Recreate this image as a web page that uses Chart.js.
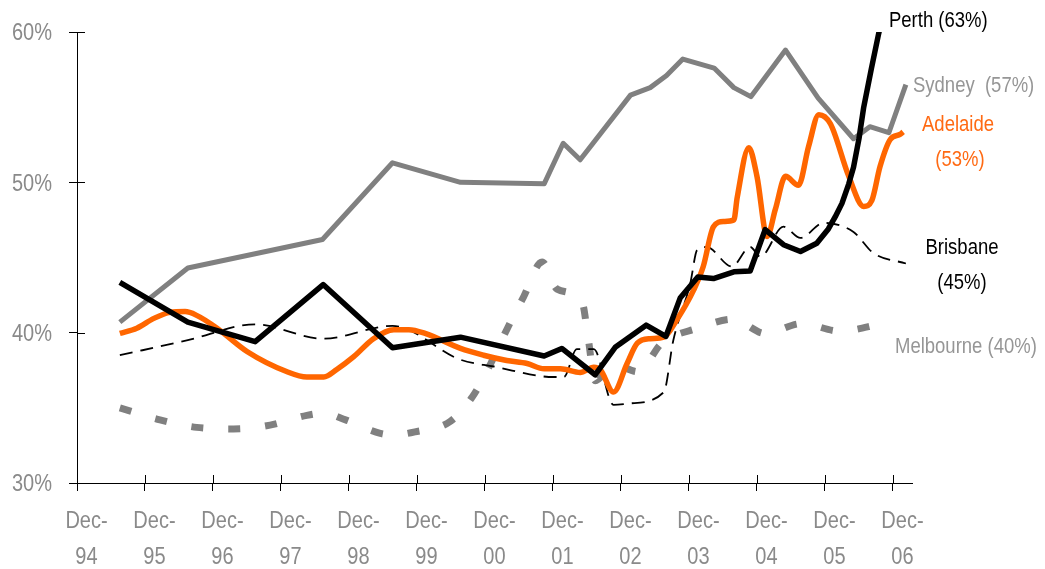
<!DOCTYPE html>
<html lang="en">
<head>
<meta charset="UTF-8" />
<title>Vacancy share by city</title>
<style>
  body {
    margin: 0;
    background: #ffffff;
  }
  .wrap {
    position: relative;
    width: 1045px;
    height: 569px;
  }
</style>
</head>
<body>

<div class="wrap">
  <canvas id="cityChart"></canvas>
</div>

<script src="https://cdn.jsdelivr.net/npm/chart.js"></script>
<script>
  // x = years after Dec-94, y = percent
  const tickYears = ['94', '95', '96', '97', '98', '99', '00', '01', '02', '03', '04', '05', '06'];
  const yTicks = [30, 40, 50, 60];

  const sydney = [
    [0.63, 40.7], [1.63, 44.3], [3.61, 46.2], [4.64, 51.3], [5.64, 50.0], [6.87, 49.9],
    [7.15, 52.6], [7.40, 51.5], [8.14, 55.8], [8.43, 56.3], [8.67, 57.1], [8.91, 58.2],
    [9.37, 57.6], [9.66, 56.3], [9.91, 55.7], [10.42, 58.8], [10.90, 55.6], [11.42, 52.9],
    [11.66, 53.7], [11.94, 53.3], [12.19, 56.5]
  ];

  const perth = [
    [0.63, 43.35], [1.63, 40.7], [2.62, 39.4], [3.62, 43.2], [4.64, 39.0], [5.64, 39.7],
    [6.87, 38.45], [7.13, 38.95], [7.62, 37.2], [7.92, 39.05], [8.37, 40.5], [8.66, 39.75],
    [8.87, 42.3], [9.13, 43.7], [9.36, 43.6], [9.66, 44.05], [9.90, 44.1], [10.12, 46.85],
    [10.39, 45.85], [10.64, 45.4], [10.88, 45.95], [11.05, 46.9], [11.15, 47.7], [11.25, 48.6],
    [11.35, 49.9], [11.42, 51.0], [11.50, 52.9], [11.57, 55.0], [11.68, 57.5], [11.79, 59.9],
    [11.95, 63.0]
  ];

  const adelaide = [
    [0.63, 39.95], [0.88, 40.3], [1.13, 40.95], [1.37, 41.35], [1.59, 41.4], [1.76, 41.15],
    [2.06, 40.3], [2.5, 38.75], [3.09, 37.4], [3.38, 37.05], [3.63, 37.05], [3.82, 37.55],
    [4.07, 38.4], [4.36, 39.6], [4.66, 40.2], [4.88, 40.2], [5.12, 39.95], [5.64, 38.95],
    [5.98, 38.5], [6.32, 38.15], [6.62, 37.95], [6.87, 37.6], [7.11, 37.6], [7.40, 37.35],
    [7.60, 37.7], [7.70, 37.5], [7.89, 36.05], [8.09, 37.95], [8.24, 39.3], [8.43, 39.6],
    [8.63, 39.7], [8.82, 40.85], [9.07, 42.85], [9.21, 44.4], [9.36, 47.05], [9.51, 47.4],
    [9.66, 47.5], [9.71, 49.0], [9.88, 52.3], [10.0, 50.4], [10.15, 46.4], [10.27, 48.2],
    [10.42, 50.4], [10.61, 49.8], [10.76, 52.4], [10.91, 54.5], [11.08, 53.9], [11.35, 50.4],
    [11.57, 48.4], [11.69, 48.8], [11.81, 51.05], [11.96, 52.85], [12.11, 53.2], [12.15, 53.35]
  ];

  const brisbane = [
    [0.63, 38.5], [1.63, 39.5], [2.62, 40.55], [3.62, 39.6], [4.64, 40.45], [5.64, 38.2],
    [6.13, 37.75], [7.01, 37.05], [7.16, 37.05], [7.35, 38.9], [7.60, 38.9], [7.89, 35.2],
    [8.14, 35.3], [8.63, 36.05], [8.77, 39.5], [9.02, 43.3], [9.12, 45.5], [9.26, 45.7],
    [9.63, 44.4], [9.90, 45.7], [10.05, 45.05], [10.39, 47.05], [10.64, 46.3], [10.98, 47.3],
    [11.42, 46.7], [11.71, 45.3], [12.19, 44.6]
  ];

  const melbourne = [
    [0.63, 35.0], [1.22, 34.2], [1.76, 33.7], [2.3, 33.6], [2.84, 33.85], [3.38, 34.5],
    [3.63, 34.65], [3.95, 34.2], [4.46, 33.3], [4.66, 33.2], [4.97, 33.4], [5.49, 34.1],
    [5.81, 35.7], [6.08, 37.9], [6.32, 40.2], [6.57, 42.4], [6.84, 44.7], [7.06, 42.9],
    [7.43, 42.0], [7.52, 39.55], [7.62, 36.8], [7.9, 37.9], [8.25, 37.4], [8.6, 39.3],
    [9.13, 40.3], [9.65, 40.9], [10.12, 39.95], [10.66, 40.6], [11.22, 40.1], [11.85, 40.6]
  ];

  const FONT = "'Liberation Sans', Arial, sans-serif";
  const AXIS_GREY = '#8a8a8a';

  function toPoints(rows) {
    return rows.map(r => ({ x: r[0], y: r[1] }));
  }

  // narrow text: Liberation Sans squeezed sideways, close to Arial Narrow
  function narrowText(ctx, text, x, y, size, squeeze, color, align) {
    ctx.save();
    ctx.translate(x, y);
    ctx.scale(squeeze, 1);
    ctx.font = size + 'px ' + FONT;
    ctx.fillStyle = color;
    ctx.textAlign = align;
    ctx.textBaseline = 'alphabetic';
    ctx.fillText(text, 0, 0);
    ctx.restore();
  }

  // ticks that cross the axes + the tick labels
  const axisBits = {
    id: 'axisBits',
    afterDatasetsDraw(chart) {
      const { ctx, chartArea, scales } = chart;
      ctx.save();
      ctx.strokeStyle = '#000';
      ctx.lineWidth = 1;
      ctx.beginPath();
      scales.x.ticks.forEach(t => {
        const px = Math.round(scales.x.getPixelForValue(t.value)) + 0.5;
        ctx.moveTo(px, chartArea.bottom);
        ctx.lineTo(px, chartArea.bottom - 8);
      });
      scales.y.ticks.forEach(t => {
        const py = Math.round(scales.y.getPixelForValue(t.value)) + 0.5;
        ctx.moveTo(chartArea.left, py);
        ctx.lineTo(chartArea.left + 8, py);
      });
      ctx.stroke();
      ctx.restore();

      scales.x.ticks.forEach((t, i) => {
        const px = scales.x.getPixelForValue(t.value) + 9.5;
        narrowText(ctx, 'Dec-', px, 527.5, 23, 0.87, AXIS_GREY, 'center');
        narrowText(ctx, tickYears[i], px, 563.5, 23, 0.87, AXIS_GREY, 'center');
      });
      scales.y.ticks.forEach(t => {
        const py = scales.y.getPixelForValue(t.value);
        narrowText(ctx, t.value + '%', 52, py + 8.3, 23, 0.87, AXIS_GREY, 'right');
      });
    }
  };

  // series names written at the right end of the lines
  const cityLabels = {
    id: 'cityLabels',
    afterDraw(chart) {
      const ctx = chart.ctx;
      const s = 21.5, q = 0.86;
      narrowText(ctx, 'Perth (63%)', 889, 27, s, q, '#000000', 'left');
      narrowText(ctx, 'Sydney  (57%)', 913, 92, s, q, '#969696', 'left');
      narrowText(ctx, 'Adelaide', 958, 131, s, q, '#ff6a13', 'center');
      narrowText(ctx, '(53%)', 960, 166, s, q, '#ff6a13', 'center');
      narrowText(ctx, 'Brisbane', 962, 254, s, q, '#000000', 'center');
      narrowText(ctx, '(45%)', 962, 289, s, q, '#000000', 'center');
      narrowText(ctx, 'Melbourne (40%)', 895, 353, s, q, '#969696', 'left');
    }
  };

  new Chart(document.getElementById('cityChart'), {
    type: 'line',
    data: {
      datasets: [
        {
          label: 'Perth',
          data: toPoints(perth),
          borderColor: '#000000',
          borderWidth: 5.5,
          tension: 0,
          clip: 0
        },
        {
          label: 'Adelaide',
          data: toPoints(adelaide),
          borderColor: '#ff6600',
          borderWidth: 5.5,
          cubicInterpolationMode: 'monotone'
        },
        {
          label: 'Sydney',
          data: toPoints(sydney),
          borderColor: '#808080',
          borderWidth: 5,
          tension: 0
        },
        {
          label: 'Brisbane',
          data: toPoints(brisbane),
          borderColor: '#000000',
          borderWidth: 1.8,
          borderDash: [13, 8],
          cubicInterpolationMode: 'monotone'
        },
        {
          label: 'Melbourne',
          data: toPoints(melbourne),
          borderColor: '#808080',
          borderWidth: 7,
          borderDash: [12, 25],
          borderCapStyle: 'butt',
          cubicInterpolationMode: 'monotone'
        }
      ]
    },
    options: {
      responsive: true,
      maintainAspectRatio: false,
      animation: false,
      layout: { padding: { top: 32, right: 133, bottom: 0, left: 0 } },
      elements: {
        point: { radius: 0, hoverRadius: 0 },
        line: { borderJoinStyle: 'round', fill: false }
      },
      plugins: {
        legend: { display: false },
        tooltip: { enabled: false }
      },
      scales: {
        x: {
          type: 'linear',
          min: 0,
          max: 12.28,
          afterBuildTicks(scale) {
            scale.ticks = tickYears.map((_, i) => ({ value: i }));
          },
          afterFit(scale) { scale.height = 86; },
          border: { display: true, color: '#000', width: 1 },
          grid: { display: true, drawOnChartArea: false, drawTicks: true, tickLength: 8, color: '#000' },
          ticks: { display: false }
        },
        y: {
          min: 30,
          max: 60,
          afterBuildTicks(scale) {
            scale.ticks = yTicks.map(v => ({ value: v }));
          },
          afterFit(scale) { scale.width = 77; },
          border: { display: true, color: '#000', width: 1 },
          grid: { display: true, drawOnChartArea: false, drawTicks: true, tickLength: 8, color: '#000' },
          ticks: { display: false }
        }
      }
    },
    plugins: [axisBits, cityLabels]
  });
</script>

</body>
</html>
